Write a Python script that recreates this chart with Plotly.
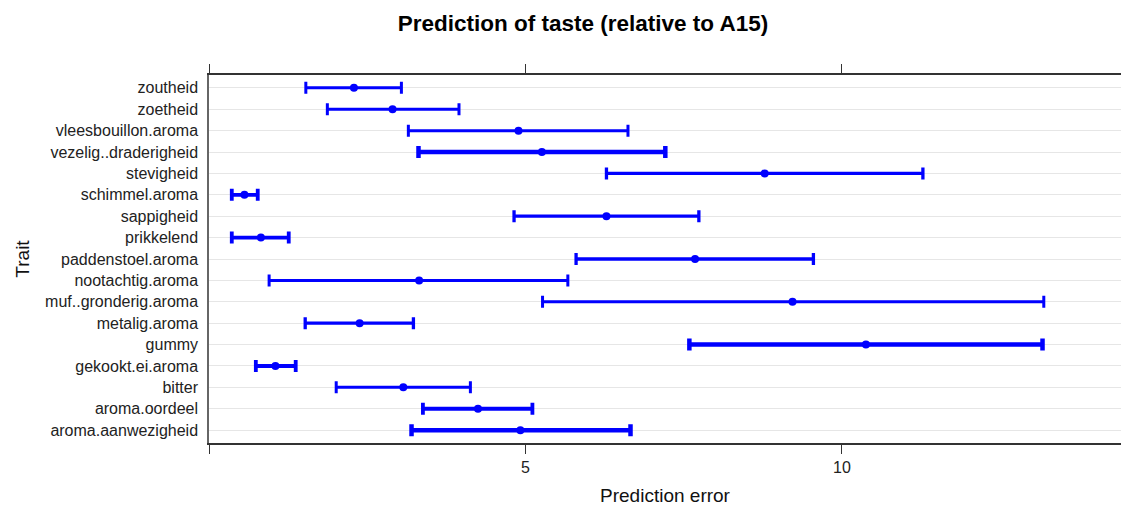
import plotly.graph_objects as go

# Traits, listed from bottom row to top row
traits = [
    "aroma.aanwezigheid", "aroma.oordeel", "bitter", "gekookt.ei.aroma", "gummy",
    "metalig.aroma", "muf..gronderig.aroma", "nootachtig.aroma", "paddenstoel.aroma",
    "prikkelend", "sappigheid", "schimmel.aroma", "stevigheid",
    "vezelig..draderigheid", "vleesbouillon.aroma", "zoetheid", "zoutheid",
]
# Point estimate of the prediction error and its interval bounds
estimate = [4.92, 4.25, 3.07, 1.05, 10.38, 2.38, 9.22, 3.32, 7.68,
            0.82, 6.28, 0.56, 8.78, 5.26, 4.89, 2.90, 2.29]
lower = [3.20, 3.38, 2.01, 0.74, 7.59, 1.52, 5.27, 0.95, 5.80,
         0.36, 4.82, 0.36, 6.28, 3.31, 3.15, 1.87, 1.53]
upper = [6.66, 5.11, 4.13, 1.37, 13.17, 3.23, 13.19, 5.67, 9.55,
         1.26, 7.74, 0.77, 11.28, 7.21, 6.62, 3.95, 3.04]

# Stroke thickness of each interval
line_w = [4.5, 3.8, 3, 3.8, 4.5, 3.3, 3, 3, 3.3, 3.8, 3.3, 3.8, 3.3, 4.5, 3, 3, 3]

x_ticks = [0, 5, 10]
x_tick_text = ["", "5", "10"]

BLUE = "#0000ff"
fig = go.Figure()
for t, e, lo, hi, w in zip(traits, estimate, lower, upper, line_w):
    fig.add_trace(go.Scatter(
        x=[e], y=[t], mode="markers",
        marker=dict(color=BLUE, size=8),
        error_x=dict(type="data", symmetric=False,
                     array=[hi - e], arrayminus=[e - lo],
                     color=BLUE, thickness=w, width=6),
        showlegend=False,
    ))

font_family = "Liberation Sans, Arial, sans-serif"
fig.update_layout(
    width=1121, height=510,
    margin=dict(l=209, r=0, t=75, b=67),
    paper_bgcolor="white", plot_bgcolor="white",
    font=dict(family=font_family, color="#111111"),
    title=dict(text="<b>Prediction of taste (relative to A15)</b>",
               x=0.52, xanchor="center", y=0.955, yanchor="middle",
               font=dict(size=22.5, color="#000000")),
    xaxis=dict(
        range=[0, 14.41], tickvals=x_ticks, ticktext=x_tick_text,
        ticks="outside", ticklen=9, tickwidth=1, tickcolor="#333333",
        showline=True, linecolor="#333333", linewidth=1.5, mirror="ticks",
        showgrid=False, zeroline=False,
        tickfont=dict(size=16, color="#222222"),
        title=dict(text="Prediction error", font=dict(size=19, color="#111111"), standoff=14),
    ),
    yaxis=dict(
        categoryorder="array", categoryarray=traits, range=[-0.6, 16.6],
        showline=True, linecolor="#666666", linewidth=1.5,
        showgrid=True, gridcolor="#e6e6e6", gridwidth=1,
        ticks="", ticklabelstandoff=6,
        tickfont=dict(size=16, color="#222222"),
        title=dict(text="Trait", font=dict(size=19, color="#111111"), standoff=10),
        zeroline=False,
    ),
)

fig.write_html("out.html")
